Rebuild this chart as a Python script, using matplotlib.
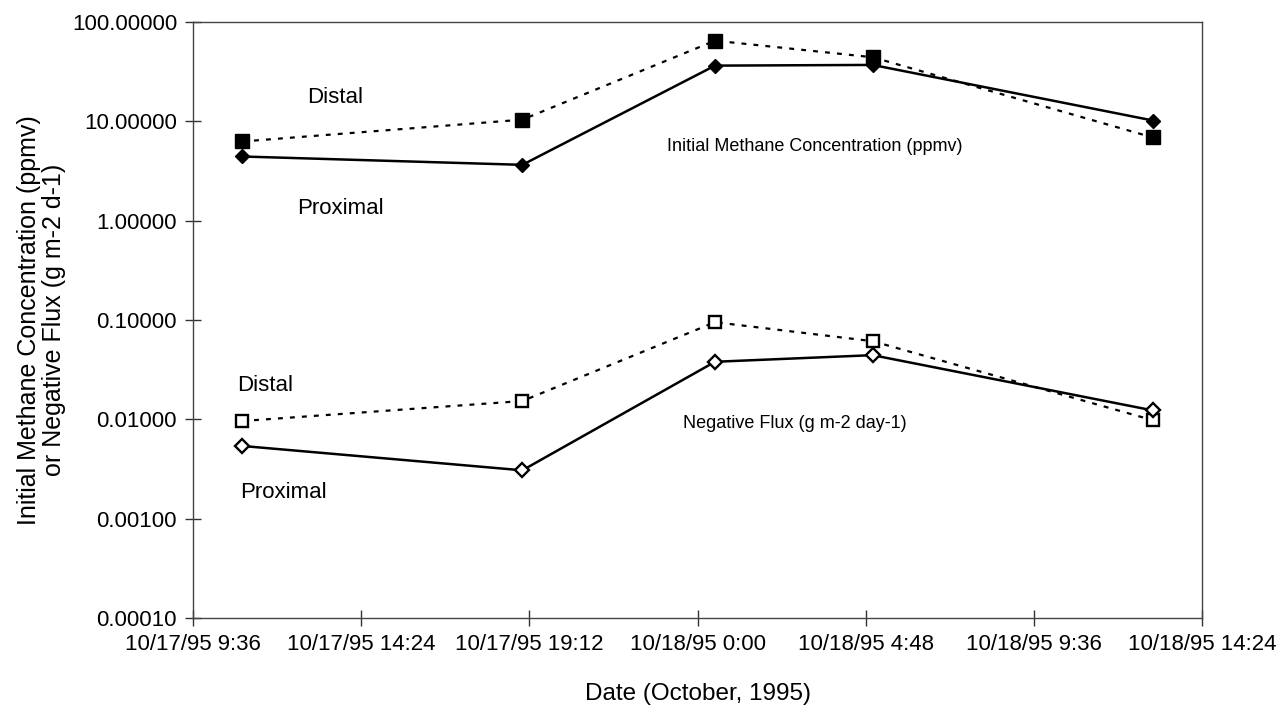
import datetime as dt
import matplotlib
matplotlib.use("Agg")
import matplotlib.pyplot as plt
import matplotlib.dates as mdates
import matplotlib.ticker as mticker
import pandas as pd

plt.rcParams['font.family'] = ['Liberation Sans', 'DejaVu Sans']

# sampling times (October 1995)
times = ['1995-10-17 11:00', '1995-10-17 19:00', '1995-10-18 00:30',
         '1995-10-18 05:00', '1995-10-18 13:00']

# initial methane concentration (ppmv)
conc_distal = [6.27, 10.4, 64.9, 44.2, 6.88]
conc_proximal = [4.43, 3.65, 36.4, 37.0, 10.2]

# negative flux (g m-2 day-1)
flux_distal = [0.00962, 0.0153, 0.0951, 0.0612, 0.0098]
flux_proximal = [0.0054, 0.00307, 0.038, 0.0443, 0.0123]

y_ticks = [0.0001, 0.001, 0.01, 0.1, 1, 10, 100]
x_start = dt.datetime(1995, 10, 17, 9, 36)
x_end = dt.datetime(1995, 10, 18, 14, 24)


def date_label(x, pos):
    d = mdates.num2date(x)
    return f"{d.month}/{d.day}/{d:%y} {d.hour}:{d.minute:02d}"


def main():
    t = pd.to_datetime(times)

    fig = plt.figure(figsize=(12.79, 7.06), dpi=100)
    ax = fig.add_axes([0.1509, 0.1246, 0.7889, 0.8442])

    dash = (0, (2.2, 3.2))
    # concentration: filled markers
    ax.plot(t, conc_distal, linestyle=dash, color='black', lw=1.6,
            marker='s', ms=9.5, mfc='black', mec='black')
    ax.plot(t, conc_proximal, linestyle='-', color='black', lw=1.8,
            marker='D', ms=7.5, mfc='black', mec='black')
    # flux: open markers
    ax.plot(t, flux_distal, linestyle=dash, color='black', lw=1.6,
            marker='s', ms=8.5, mfc='white', mec='black', mew=1.7)
    ax.plot(t, flux_proximal, linestyle='-', color='black', lw=1.8,
            marker='D', ms=7, mfc='white', mec='black', mew=1.7)

    ax.set_yscale('log')
    ax.set_ylim(0.0001, 100)
    ax.yaxis.set_major_locator(mticker.FixedLocator(y_ticks))
    ax.yaxis.set_minor_locator(mticker.NullLocator())
    ax.yaxis.set_major_formatter(mticker.FuncFormatter(lambda v, p: f"{v:.5f}"))

    ax.set_xlim(x_start, x_end)
    ax.xaxis.set_major_locator(mticker.FixedLocator(
        mdates.date2num(pd.date_range(x_start, x_end, freq='288min').to_pydatetime())))
    ax.xaxis.set_major_formatter(mticker.FuncFormatter(date_label))

    ax.tick_params(axis='both', direction='inout', length=11, width=1,
                   color='#333333', pad=6)
    ax.tick_params(axis='y', labelsize=16)
    ax.tick_params(axis='x', labelsize=16)
    for s in ax.spines.values():
        s.set_color('#444444')
        s.set_linewidth(1)

    ax.set_xlabel('Date (October, 1995)', fontsize=17.5, labelpad=20)
    ax.set_ylabel('Initial Methane Concentration (ppmv)\nor Negative Flux (g m-2 d-1)',
                  fontsize=18, labelpad=4, linespacing=1.05)

    # annotations
    tx = ax.transAxes
    ax.text((335 - 193) / 1009, 1 - (97 - 22) / 596, 'Distal', transform=tx,
            fontsize=16, ha='center', va='center')
    ax.text((340 - 193) / 1009, 1 - (208 - 22) / 596, 'Proximal', transform=tx,
            fontsize=16, ha='center', va='center')
    ax.text((815 - 193) / 1009, 1 - (146 - 22) / 596,
            'Initial Methane Concentration (ppmv)', transform=tx,
            fontsize=13, ha='center', va='center')
    ax.text((265 - 193) / 1009, 1 - (385 - 22) / 596, 'Distal', transform=tx,
            fontsize=16, ha='center', va='center')
    ax.text((283 - 193) / 1009, 1 - (492 - 22) / 596, 'Proximal', transform=tx,
            fontsize=16, ha='center', va='center')
    ax.text((795 - 193) / 1009, 1 - (423 - 22) / 596,
            'Negative Flux (g m-2 day-1)', transform=tx,
            fontsize=13, ha='center', va='center')

    fig.savefig('out.png', dpi=100)


if __name__ == "__main__":
    main()
